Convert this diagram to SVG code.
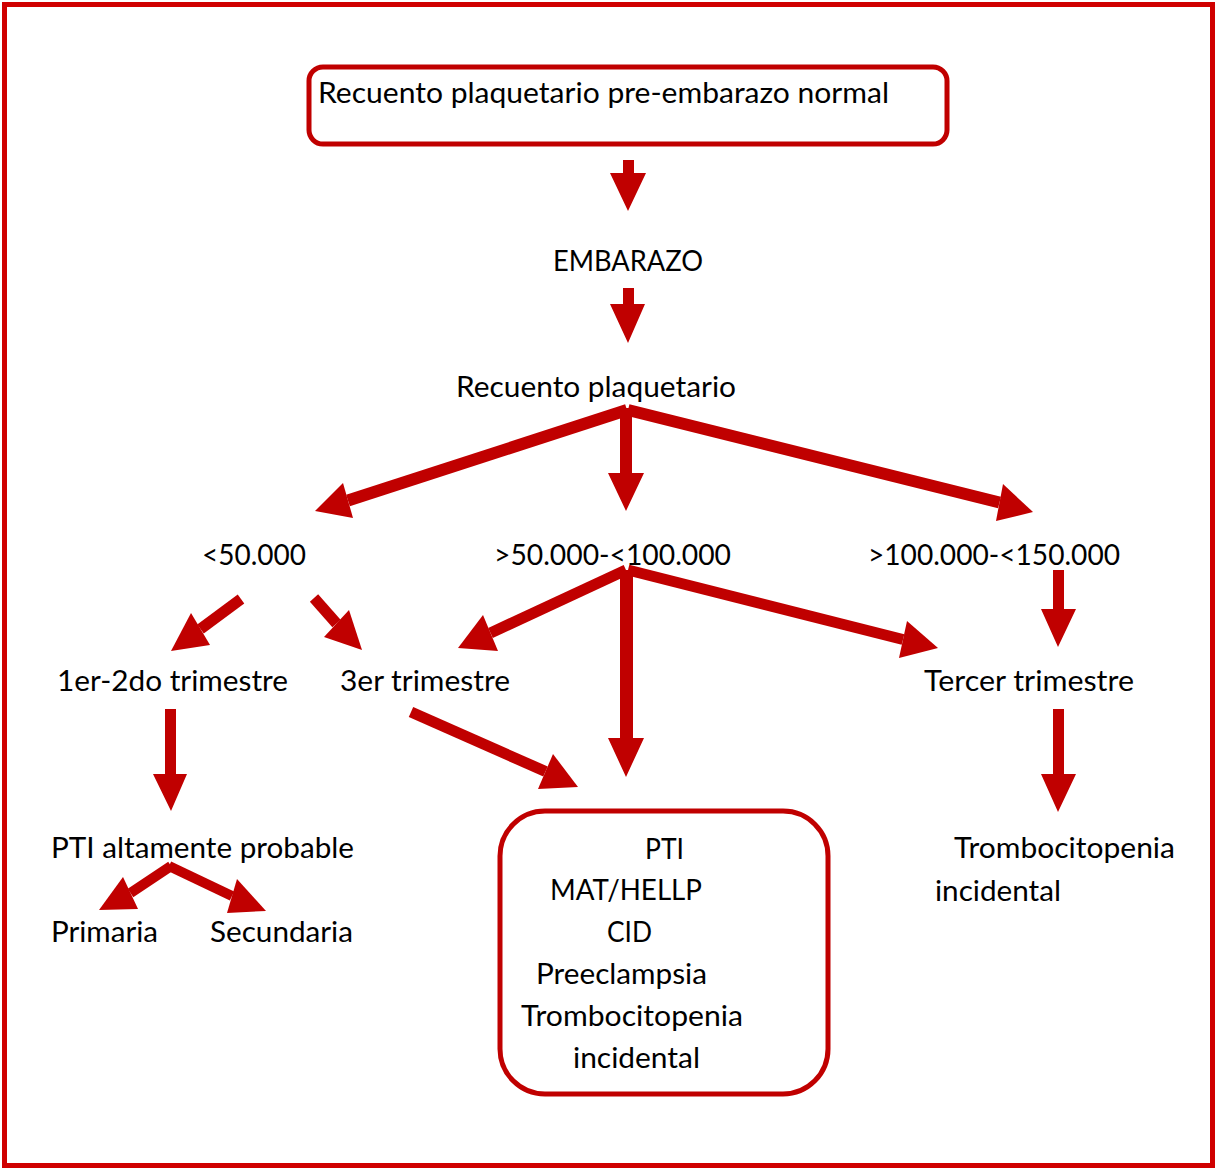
<svg xmlns="http://www.w3.org/2000/svg" width="1215" height="1168" viewBox="0 0 1215 1168">
<style>
.t{font-family:Lato,"Liberation Sans",sans-serif;font-size:28px;fill:#000}
.box{fill:#fff;stroke:#C00000;stroke-width:5}
.sh{stroke:#C00000;fill:none}
.hd{fill:#C00000;stroke:none}
</style>
<rect x="0" y="0" width="1215" height="1168" fill="#fff"/>
<rect x="4.5" y="4.5" width="1208" height="1161" fill="none" stroke="#D00000" stroke-width="5"/>
<g id="connectors">
<polygon class="hd" points="623,160 634,160 634,173 646,173 628,211 610,173 623,173"/>
<polygon class="hd" points="623,288 634,288 634,304 645,304 628,343 610,304 623,304"/>
<polygon class="hd" points="620,408 632,408 632,473 644,473 626,511 608,473 620,473"/>
<polygon class="hd" points="620,570 633,570 633,738 644,738 626,777 608,738 620,738"/>
<polygon class="hd" points="165,709 176,709 176,774 187,774 171,811 153,774 165,774"/>
<polygon class="hd" points="1053,570 1064,570 1064,609 1076,609 1058,647 1041,609 1053,609"/>
<polygon class="hd" points="1053,709 1064,709 1064,774 1076,774 1058,812 1041,774 1053,774"/>
<line class="sh" stroke-width="12" x1="627" y1="410" x2="348" y2="500.5"/>
<polygon class="hd" points="315,511 343,483 353,518"/>
<line class="sh" stroke-width="12" x1="628" y1="410" x2="999.5" y2="502.5"/>
<polygon class="hd" points="1033,512 1003,484 996,521"/>
<line class="sh" stroke-width="11" x1="626" y1="570" x2="490.5" y2="633"/>
<polygon class="hd" points="458,648 483,615 498,651"/>
<line class="sh" stroke-width="11" x1="628" y1="570" x2="903" y2="639.5"/>
<polygon class="hd" points="938,648 907,621 899,658"/>
<line class="sh" stroke-width="11" x1="411" y1="712" x2="545.5" y2="771.5"/>
<polygon class="hd" points="578,787 553,754 538,789"/>
<line class="sh" stroke-width="11" x1="241" y1="599" x2="200.5" y2="629"/>
<polygon class="hd" points="171,651 191,613 210,645"/>
<line class="sh" stroke-width="11" x1="314" y1="598" x2="336.5" y2="623.5"/>
<polygon class="hd" points="362,650 349,610 324,637"/>
<line class="sh" stroke-width="10" x1="171" y1="866" x2="130.5" y2="893"/>
<polygon class="hd" points="99,910 123,877 138,909"/>
<line class="sh" stroke-width="10" x1="169" y1="866" x2="232" y2="896"/>
<polygon class="hd" points="266,911 237,879 227,913"/>
</g>
<g id="n-top">
<rect class="box" x="309" y="67" width="638" height="77" rx="14"/>
<text class="t" x="318" y="103" textLength="571" lengthAdjust="spacingAndGlyphs">Recuento plaquetario pre-embarazo normal</text>
</g>
<g id="n-embarazo"><text class="t" x="553" y="271" textLength="150" lengthAdjust="spacingAndGlyphs">EMBARAZO</text></g>
<g id="n-recuento"><text class="t" x="456" y="397" textLength="280" lengthAdjust="spacingAndGlyphs">Recuento plaquetario</text></g>
<g id="n-lt50"><text class="t" x="202" y="565" textLength="104" lengthAdjust="spacingAndGlyphs">&lt;50.000</text></g>
<g id="n-50-100"><text class="t" x="494" y="565" textLength="237" lengthAdjust="spacingAndGlyphs">&gt;50.000-&lt;100.000</text></g>
<g id="n-100-150"><text class="t" x="868" y="565" textLength="252" lengthAdjust="spacingAndGlyphs">&gt;100.000-&lt;150.000</text></g>
<g id="n-1er2do"><text class="t" x="57" y="691" textLength="231" lengthAdjust="spacingAndGlyphs">1er-2do trimestre</text></g>
<g id="n-3er"><text class="t" x="340" y="691" textLength="170" lengthAdjust="spacingAndGlyphs">3er trimestre</text></g>
<g id="n-tercer"><text class="t" x="924" y="691" textLength="210" lengthAdjust="spacingAndGlyphs">Tercer trimestre</text></g>
<g id="n-pti-prob"><text class="t" x="51" y="858" textLength="303" lengthAdjust="spacingAndGlyphs">PTI altamente probable</text></g>
<g id="n-primaria"><text class="t" x="51" y="942" textLength="107" lengthAdjust="spacingAndGlyphs">Primaria</text></g>
<g id="n-secundaria"><text class="t" x="210" y="942" textLength="143" lengthAdjust="spacingAndGlyphs">Secundaria</text></g>
<g id="n-box">
<rect class="box" x="500" y="811" width="328" height="283" rx="45"/>
<text class="t" x="645" y="859" textLength="39" lengthAdjust="spacingAndGlyphs">PTI</text>
<text class="t" x="550" y="900" textLength="152" lengthAdjust="spacingAndGlyphs">MAT/HELLP</text>
<text class="t" x="607" y="942" textLength="45" lengthAdjust="spacingAndGlyphs">CID</text>
<text class="t" x="536" y="984" textLength="171" lengthAdjust="spacingAndGlyphs">Preeclampsia</text>
<text class="t" x="521" y="1026" textLength="222" lengthAdjust="spacingAndGlyphs">Trombocitopenia</text>
<text class="t" x="573" y="1068" textLength="127" lengthAdjust="spacingAndGlyphs">incidental</text>
</g>
<g id="n-incidental">
<text class="t" x="954" y="858" textLength="221" lengthAdjust="spacingAndGlyphs">Trombocitopenia</text>
<text class="t" x="935" y="901" textLength="126" lengthAdjust="spacingAndGlyphs">incidental</text>
</g>
</svg>
